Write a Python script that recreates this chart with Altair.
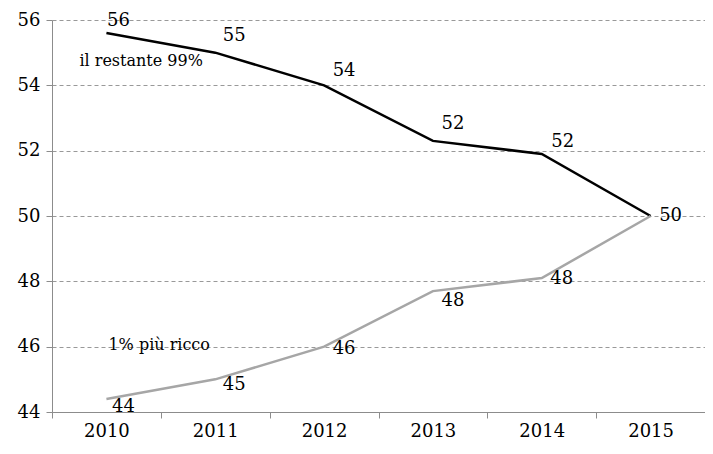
import altair as alt
import pandas as pd

# ---- data ----
years = ["2010", "2011", "2012", "2013", "2014", "2015"]
rest99 = [55.6, 55.0, 54.0, 52.3, 51.9, 50.0]
top1 = [44.4, 45.0, 46.0, 47.7, 48.1, 50.0]
series_names = ["il restante 99%", "1% più ricco"]
annot_text = ["il restante 99%", "1% più ricco"]
annot_year = ["2010", "2010"]
annot_value = [54.74, 46.06]

# ---- styles ----
FONT = "DejaVu Serif"
COLORS = ["#000000", "#a6a6a6"]
OFFS_99 = [(12, -12), (19, -17), (20, -14), (20, -17), (21, -12), (20, 0)]
OFFS_1 = [(17, 8), (19, 6), (20, 2), (20, 10), (20, 1), None]
ANNOT_DX = [-27, 2]

df = pd.DataFrame({
    "year": years * 2,
    "value": rest99 + top1,
    "series": [series_names[0]] * len(years) + [series_names[1]] * len(years),
})
adf = pd.DataFrame({"text": annot_text, "year": annot_year, "value": annot_value})

x_enc = alt.X(
    "year:O",
    sort=years,
    scale=alt.Scale(type="band", paddingInner=0, paddingOuter=0),
    axis=alt.Axis(title=None, labelFontSize=18, labelFont=FONT, labelColor="black",
                  labelAngle=0, tickBand="extent", domainColor="#8c8c8c",
                  tickColor="#8c8c8c", tickSize=6, labelPadding=4, grid=False),
)
y_enc = alt.Y(
    "value:Q",
    scale=alt.Scale(domain=[44, 56], nice=False, zero=False),
    axis=alt.Axis(title=None, values=[44, 46, 48, 50, 52, 54, 56], labelFontSize=18,
                  labelFont=FONT, labelColor="black", gridDash=[4, 3],
                  gridColor="#999999", domainColor="#8c8c8c", tickColor="#8c8c8c",
                  tickSize=6, labelPadding=6),
)

lines = alt.Chart(df).mark_line(strokeWidth=2.5).encode(
    x=x_enc, y=y_enc,
    color=alt.Color("series:N", scale=alt.Scale(domain=series_names, range=COLORS), legend=None),
)

layers = [lines]
for s_name, offs in zip(series_names, [OFFS_99, OFFS_1]):
    for yr, off in zip(years, offs):
        if off is None:
            continue
        layers.append(
            alt.Chart(df).transform_filter(
                (alt.datum.series == s_name) & (alt.datum.year == yr)
            ).mark_text(font=FONT, fontSize=18, color="black", align="center",
                        baseline="middle", dx=off[0], dy=off[1]).encode(
                x=alt.X("year:O", sort=years), y="value:Q",
                text=alt.Text("value:Q", format=".0f"),
            )
        )

for t, dx in zip(annot_text, ANNOT_DX):
    layers.append(
        alt.Chart(adf).transform_filter(alt.datum.text == t).mark_text(
            font=FONT, fontSize=16, color="black", align="left", baseline="middle", dx=dx
        ).encode(x=alt.X("year:O", sort=years), y="value:Q", text="text:N")
    )

chart = alt.layer(*layers).properties(
    width=653, height=392,
    autosize=alt.AutoSizeParams(type="none"),
    padding={"left": 44, "top": 12, "right": 0, "bottom": 30},
    background="white",
).configure_view(stroke=None)

chart.save("out.html", embed_options={"renderer": "svg", "actions": False})
